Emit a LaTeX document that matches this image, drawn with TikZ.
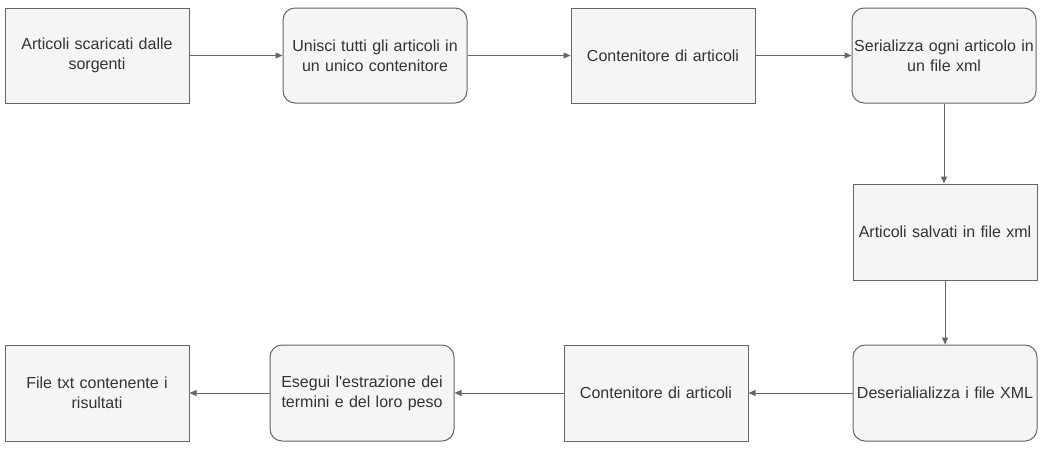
\documentclass[tikz,border=0pt]{standalone}
\usepackage{fontspec}
\setmainfont{Liberation Sans}[Ligatures=TeXOff]
\usetikzlibrary{arrows.meta}
\definecolor{boxfill}{HTML}{F5F5F5}
\definecolor{boxline}{HTML}{666666}
\definecolor{boxtext}{HTML}{333333}
\tikzset{
  base/.style={draw=boxline, fill=boxfill, line width=1pt, text=boxtext,
    minimum width=184pt, minimum height=95pt, inner sep=0pt, text width=180pt,
    align=center, font=\fontsize{16pt}{20pt}\selectfont},
  sqbox/.style={base},
  rndbox/.style={base, rounded corners=12pt},
  conn/.style={draw=boxline, line width=1pt, -{Triangle[length=7pt,width=6pt]}}
}
\begin{document}
\begin{tikzpicture}[x=1pt,y=-1pt]
\useasboundingbox (0,0) rectangle (1043,451);
\node[sqbox]  (a) at (97,55.5) {Articoli scaricati dalle\\sorgenti};
\node[rndbox] (b) at (375,55.5) {Unisci tutti gli articoli in\\un unico contenitore};
\node[sqbox]  (c) at (663,55.5) {Contenitore di articoli};
\node[rndbox] (d) at (944,55.5) {Serializza ogni articolo in\\un file xml};
\node[sqbox, minimum height=96pt]  (e) at (945,232) {Articoli salvati in file xml};
\node[rndbox, minimum height=96pt] (f) at (945,393) {Deserialializza i file XML};
\node[sqbox, minimum height=96pt]  (g) at (656,393) {Contenitore di articoli};
\node[rndbox, minimum height=96pt] (h) at (362,393) {Esegui l'estrazione dei\\termini e del loro peso};
\node[sqbox, minimum height=96pt]  (i) at (97,393) {File txt contenente i\\risultati};
\draw[conn] (a) -- (b);
\draw[conn] (b) -- (c);
\draw[conn] (c) -- (d);
\draw[conn] (d.south) -- (d.south |- e.north);
\draw[conn] (e.south) -- (e.south |- f.north);
\draw[conn] (f) -- (g);
\draw[conn] (g) -- (h);
\draw[conn] (h) -- (i);
\end{tikzpicture}
\end{document}
